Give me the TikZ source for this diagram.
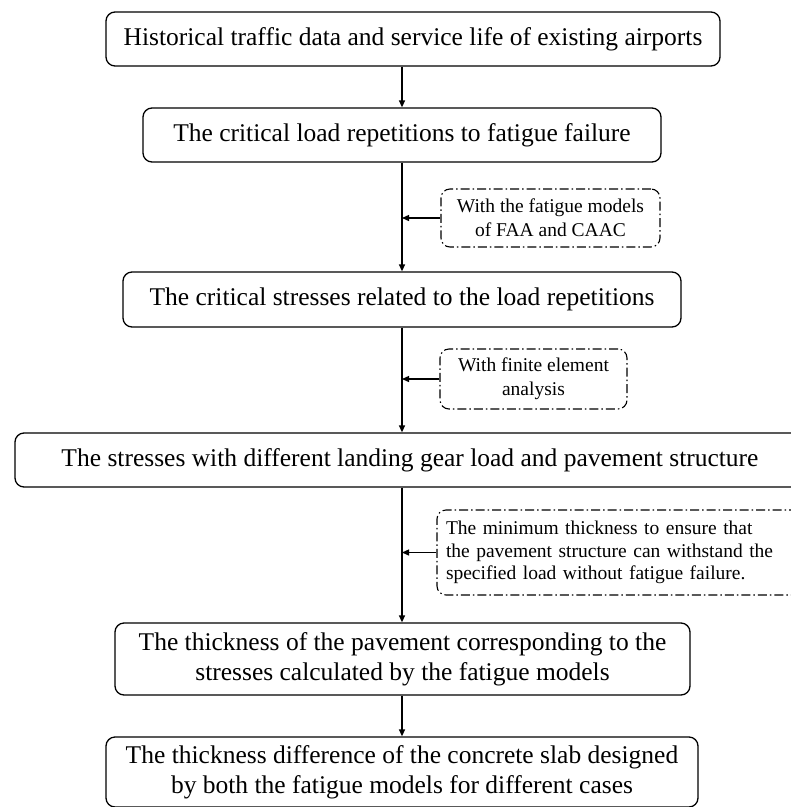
\documentclass[tikz,border=0pt]{standalone}
\usepackage{fontspec}
\setmainfont{Liberation Serif}
\usetikzlibrary{arrows.meta}
\begin{document}
\begin{tikzpicture}[x=1pt,y=-1pt,
  mainbox/.style={draw, line width=1.3pt, rounded corners=9pt, inner sep=0pt, align=center,
    font=\fontsize{25.5}{30}\selectfont},
  sidebox/.style={draw, line width=1.1pt, rounded corners=9pt, inner sep=0pt,
    dash pattern=on 9pt off 3pt on 1.5pt off 3pt},
  flow/.style={line width=1.3pt, -{Triangle[length=7pt,width=6pt]}}]
\useasboundingbox (0,0) rectangle (791,807);
\node[mainbox, minimum width=614pt, minimum height=54pt] (b1) at (413,39)
  {Historical traffic data and service life of existing airports};
\node[mainbox, minimum width=518pt, minimum height=54pt] (b2) at (402,135)
  {The critical load repetitions to fatigue failure};
\node[mainbox, minimum width=558pt, minimum height=55pt] (b3) at (402,299.5)
  {The critical stresses related to the load repetitions};
\node[mainbox, minimum width=790pt, minimum height=54pt] (b4) at (410,460)
  {The stresses with different landing gear load and pavement structure};
\node[mainbox, minimum width=575pt, minimum height=72pt] (b5) at (402.5,659)
  {The thickness of the pavement corresponding to the\\stresses calculated by the fatigue models};
\node[mainbox, minimum width=592pt, minimum height=70pt] (b6) at (402,772)
  {The thickness difference of the concrete slab designed\\by both the fatigue models for different cases};
\node[sidebox, align=center, minimum width=219pt, minimum height=58pt,
  font=\fontsize{19.5}{24}\selectfont] (s1) at (550.5,218)
  {With the fatigue models\\of FAA and CAAC};
\node[sidebox, align=center, minimum width=187pt, minimum height=60pt,
  font=\fontsize{19.5}{24}\selectfont] (s2) at (533.5,379)
  {With finite element\\analysis};
\node[sidebox, align=left, minimum width=370pt, minimum height=85pt, text width=352pt,
  font=\fontsize{19.5}{22.5}\selectfont] (s3) at (622,552.5)
  {The minimum thickness to ensure that\\the pavement structure can withstand the\\specified load without fatigue failure.};
\coordinate (j1) at (402,218);
\coordinate (j2) at (402,379);
\coordinate (j3) at (402,552.5);
\draw[flow] (b1.south -| b2.north) -- (b2.north);
\draw[flow] (b2.south) -- (b3.north);
\draw[flow] (b3.south) -- (b3.south |- b4.north);
\draw[flow] (b3.south |- b4.south) -- (b5.north -| b3.south);
\draw[flow] (b5.south -| b3.south) -- (b6.north -| b3.south);
\draw[flow] (s1.west) -- (j1);
\draw[flow] (s2.west) -- (j2);
\draw[flow] (s3.west) -- (j3);
\end{tikzpicture}
\end{document}
